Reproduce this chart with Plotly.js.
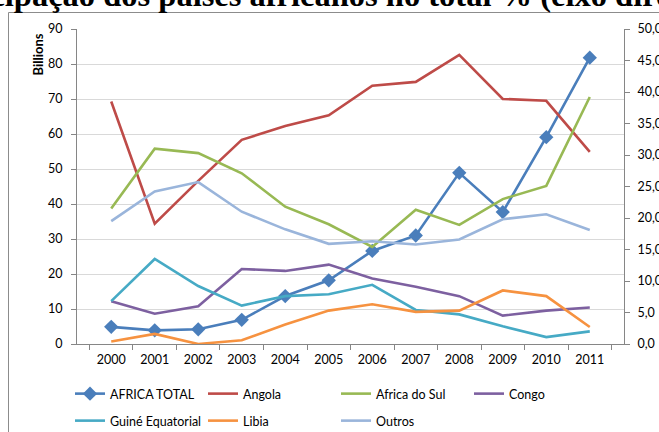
<!DOCTYPE html>
<html>
<head>
<meta charset="utf-8">
<script src="https://cdn.plot.ly/plotly-3.0.1.min.js"></script>
<style>
  html, body { margin: 0; padding: 0; background: #fff; }
  #chart { width: 659px; height: 432px; }
</style>
</head>
<body>
<div id="chart"></div>
<script>
// ---- Data ----
var years = ['2000','2001','2002','2003','2004','2005','2006','2007','2008','2009','2010','2011'];
// AFRICA TOTAL, in billions (left axis)
var africaTotal = [4.9, 3.9, 4.2, 6.9, 13.7, 18.2, 26.6, 31.0, 48.9, 37.7, 59.1, 81.8];
// Country shares of total, % (right axis)
var angola      = [38.5, 19.1, 25.9, 32.4, 34.6, 36.3, 41.0, 41.6, 45.9, 38.9, 38.6, 30.5];
var africaDoSul = [21.5, 31.0, 30.3, 27.1, 21.8, 19.0, 15.4, 21.3, 18.9, 23.0, 25.1, 39.2];
var congo       = [6.8, 4.8, 6.0, 11.9, 11.6, 12.6, 10.4, 9.1, 7.6, 4.5, 5.3, 5.8];
var guine       = [6.8, 13.5, 9.2, 6.1, 7.6, 7.9, 9.4, 5.4, 4.7, 2.8, 1.1, 2.0];
var libia       = [0.4, 1.6, 0.0, 0.6, 3.1, 5.3, 6.3, 5.1, 5.3, 8.5, 7.6, 2.7];
var outros      = [19.5, 24.2, 25.7, 21.0, 18.2, 15.9, 16.3, 15.8, 16.6, 19.8, 20.6, 18.1];

var seriesNames = ['AFRICA TOTAL','Angola','Africa do Sul','Congo','Guiné Equatorial','Libia','Outros'];
var titleText = 'Participação dos países africanos no total % (eixo direito)';
var leftAxisUnit = 'Billions';

// ---- Styles ----
var colors = ['#4A7EBB','#BE4B48','#98B954','#7D60A0','#46AAC5','#F69240','#9AB5DB'];
var FONT = 'Lato, "Open Sans", sans-serif';

function line(name, y, color, axis, legendId, withMarker) {
  var t = {
    type: 'scatter',
    mode: withMarker ? 'lines+markers' : 'lines',
    name: name,
    x: years,
    y: y,
    yaxis: axis,
    legend: legendId,
    cliponaxis: false,
    line: { color: color, width: 2.6 },
    hoverinfo: 'x+y+name'
  };
  if (withMarker) t.marker = { symbol: 'diamond', size: 11, color: color };
  return t;
}

var data = [
  line(seriesNames[0], africaTotal, colors[0], 'y',  'legend',  true),
  line(seriesNames[1], angola,      colors[1], 'y2', 'legend',  false),
  line(seriesNames[2], africaDoSul, colors[2], 'y2', 'legend',  false),
  line(seriesNames[3], congo,       colors[3], 'y2', 'legend',  false),
  line(seriesNames[4], guine,       colors[4], 'y2', 'legend2', false),
  line(seriesNames[5], libia,       colors[5], 'y2', 'legend2', false),
  line(seriesNames[6], outros,      colors[6], 'y2', 'legend2', false)
];

// pixel helpers for the fixed plot area (77..624 x 29..344)
var W = 659, H = 432;
var PL = 77, PR = 624, PT = 29, PB = 344;
function px(x) { return (x - PL) / (PR - PL); }
function py(y) { return (PB - y) / (PB - PT); }
function cx(x) { return x / W; }
function cy(y) { return 1 - y / H; }

var legendCommon = {
  orientation: 'h',
  xref: 'container',
  yref: 'container',
  xanchor: 'left',
  yanchor: 'middle',
  entrywidth: 88,
  entrywidthmode: 'pixels',
  bgcolor: 'rgba(0,0,0,0)',
  borderwidth: 0,
  font: { family: FONT, size: 12.5, color: '#000' },
  itemclick: false,
  itemdoubleclick: false
};

var layout = {
  width: W,
  height: H,
  margin: { l: PL, r: W - PR, t: PT, b: H - PB, pad: 0, autoexpand: false },
  paper_bgcolor: '#fff',
  plot_bgcolor: '#fff',
  separators: ', ',
  font: { family: FONT, size: 12.5, color: '#000' },
  showlegend: true,
  xaxis: {
    type: 'category',
    showgrid: false,
    showline: true,
    linecolor: '#868686',
    linewidth: 1,
    ticks: 'outside',
    tickson: 'boundaries',
    ticklen: 5,
    tickcolor: '#868686',
    ticklabelstandoff: 4,
    tickfont: { family: FONT, size: 12.5, color: '#000' },
    zeroline: false,
    automargin: false,
    fixedrange: true
  },
  yaxis: {
    range: [0, 90],
    dtick: 10,
    tick0: 0,
    showgrid: true,
    gridcolor: '#D9D9D9',
    gridwidth: 1,
    showline: true,
    linecolor: '#868686',
    ticks: 'outside',
    ticklen: 5,
    tickcolor: '#868686',
    ticklabelstandoff: 6,
    tickfont: { family: FONT, size: 12.5, color: '#000' },
    zeroline: false,
    automargin: false,
    fixedrange: true
  },
  yaxis2: {
    overlaying: 'y',
    side: 'right',
    range: [0, 50],
    dtick: 5,
    tick0: 0,
    tickformat: '.1f',
    showgrid: false,
    showline: true,
    linecolor: '#868686',
    ticks: 'outside',
    ticklen: 5,
    tickcolor: '#868686',
    ticklabelstandoff: 5,
    tickfont: { family: FONT, size: 12.5, color: '#000' },
    zeroline: false,
    automargin: false,
    fixedrange: true
  },
  legend: Object.assign({}, legendCommon, { x: cx(70), y: cy(394) }),
  legend2: Object.assign({}, legendCommon, { x: cx(70), y: cy(421) }),
  annotations: [
    {
      text: '<b>' + titleText + '</b>',
      xref: 'paper', yref: 'paper',
      x: px(318), y: py(-5),
      xanchor: 'center', yanchor: 'middle',
      showarrow: false,
      font: { family: '"Liberation Serif", "Times New Roman", serif', size: 32.5, color: '#000' }
    },
    {
      text: '<b>' + leftAxisUnit + '</b>',
      xref: 'paper', yref: 'paper',
      x: px(37.5), y: py(55),
      xanchor: 'center', yanchor: 'middle',
      textangle: -90,
      showarrow: false,
      font: { family: FONT, size: 13, color: '#000' }
    }
  ],
  shapes: [
    {
      type: 'rect', xref: 'paper', yref: 'paper', layer: 'below',
      x0: px(8.5), x1: px(700), y0: py(470), y1: py(12.5),
      line: { color: '#8C8C8C', width: 1 },
      fillcolor: 'rgba(0,0,0,0)'
    }
  ]
};

Plotly.newPlot('chart', data, layout, { staticPlot: true, displayModeBar: false });
</script>
</body>
</html>
